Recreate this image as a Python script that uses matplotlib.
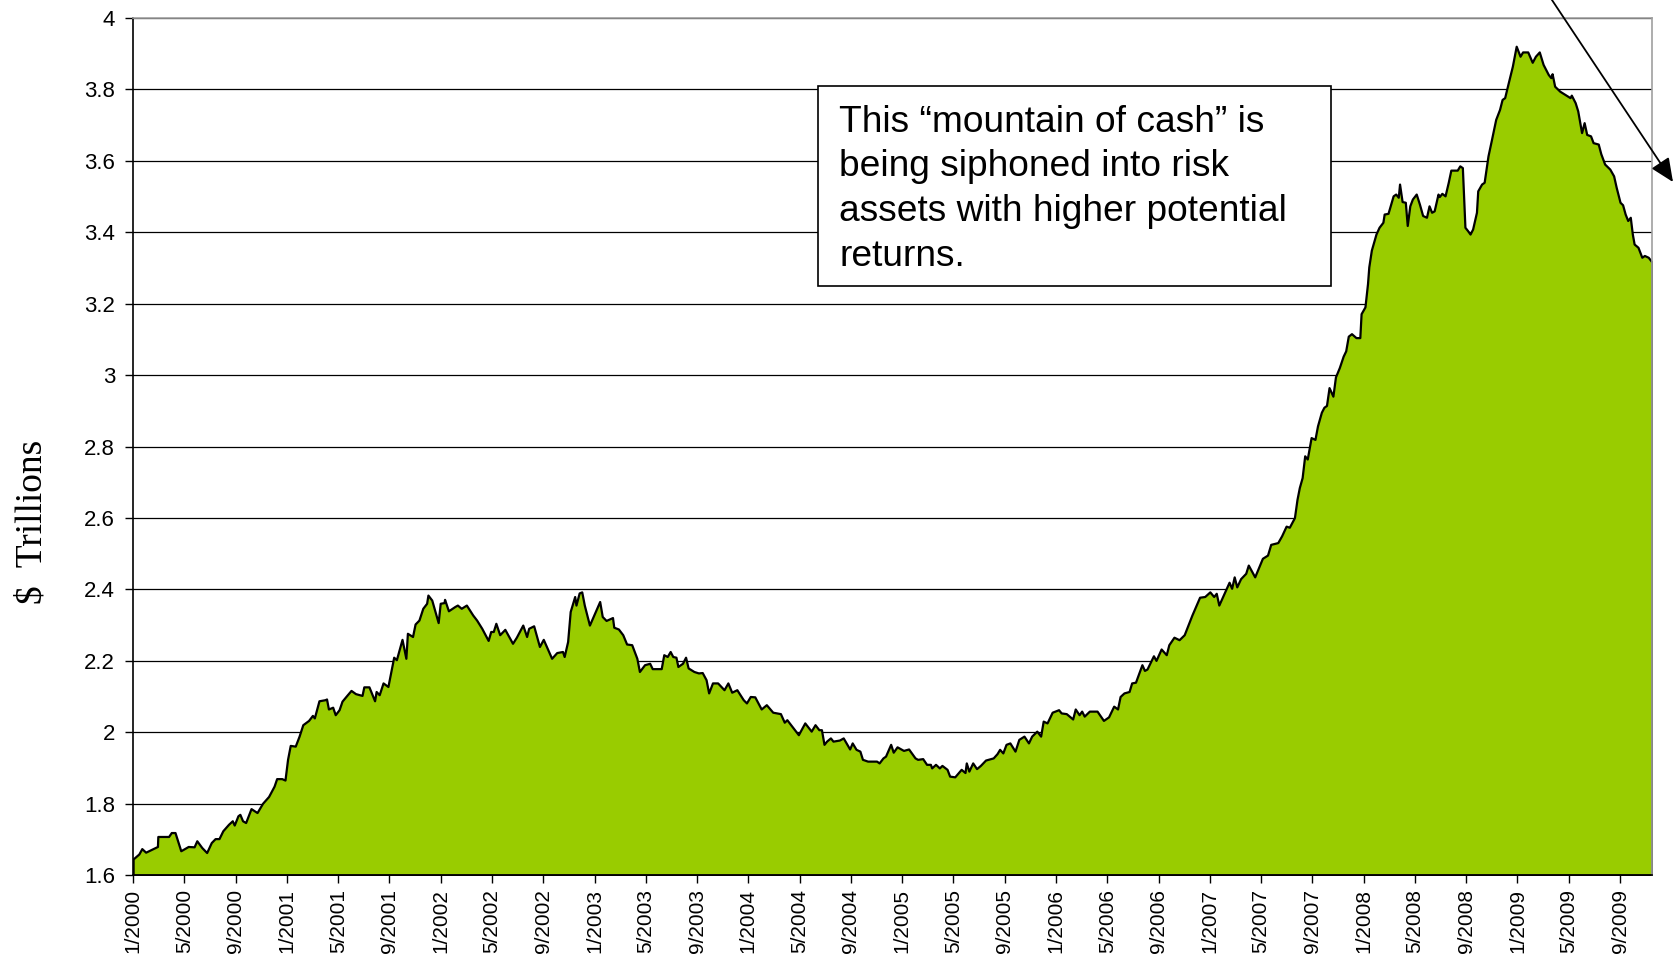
import matplotlib
matplotlib.use("Agg")
import matplotlib.pyplot as plt
from matplotlib.patches import Rectangle

# months since 1/2000 and money-market cash level ($ trillions)
months = [
    0.0, 0.45, 0.68, 0.98, 1.9, 1.93, 2.77, 2.98, 3.27, 3.72, 4.3, 4.76, 4.97, 5.36, 5.74,
    6.1, 6.4, 6.7, 7.0, 7.44, 7.74, 7.89, 8.18, 8.33, 8.54, 8.78, 9.2, 9.67, 10.1, 10.57,
    11.0, 11.2, 11.6, 11.85, 12.05, 12.26, 12.65, 12.95, 13.24, 13.69, 13.99, 14.14, 14.5,
    14.97, 15.09, 15.24, 15.57, 15.77, 16.07, 16.3, 16.67, 17.0, 17.35, 17.86, 18.0, 18.4,
    18.84, 18.96, 19.2, 19.5, 19.88, 20.33, 20.54, 20.98, 21.28, 21.4, 21.8, 22.0, 22.3,
    22.6, 22.9, 23.0, 23.3, 23.8, 23.96, 24.26, 24.3, 24.6, 25.1, 25.3, 25.6, 26.0, 26.5,
    26.8, 27.2, 27.7, 27.9, 28.1, 28.3, 28.6, 29.0, 29.6, 29.9, 30.4, 30.7, 30.86, 31.25,
    31.7, 32.0, 32.65, 33.05, 33.5, 33.63, 33.9, 34.1, 34.45, 34.55, 34.8, 35.0, 35.2,
    35.6, 36.0, 36.4, 36.6, 36.9, 37.4, 37.5, 37.86, 38.2, 38.5, 38.9, 39.3, 39.5, 39.9,
    40.3, 40.5, 41.2, 41.4, 41.67, 41.9, 42.1, 42.35, 42.5, 42.86, 43.1, 43.3, 43.75,
    44.1, 44.4, 44.7, 44.9, 45.2, 45.6, 46.1, 46.4, 46.7, 47.1, 47.6, 47.85, 48.15, 48.5,
    49.0, 49.4, 49.9, 50.5, 50.8, 51.0, 51.9, 52.4, 52.9, 53.2, 53.5, 53.7, 53.9, 54.1,
    54.4, 54.6, 55.1, 55.4, 55.9, 56.1, 56.4, 56.7, 56.9, 57.3, 58.0, 58.2, 58.5, 58.7,
    59.1, 59.3, 59.6, 60.1, 60.5, 61.0, 61.2, 61.6, 61.9, 62.2, 62.3, 62.6, 62.9, 63.1,
    63.5, 63.7, 64.1, 64.6, 64.9, 65.0, 65.2, 65.5, 65.8, 66.1, 66.5, 67.1, 67.4, 67.6,
    67.85, 68.1, 68.4, 68.8, 69.1, 69.5, 69.85, 70.1, 70.5, 70.8, 71.0, 71.3, 71.7, 72.2,
    72.4, 72.8, 73.3, 73.5, 73.8, 74.0, 74.2, 74.6, 75.2, 75.7, 76.1, 76.5, 76.8, 77.0,
    77.3, 77.7, 77.9, 78.2, 78.7, 78.9, 79.1, 79.6, 79.8, 80.2, 80.6, 80.8, 81.2, 81.6,
    82.0, 82.6, 83.2, 83.6, 84.0, 84.3, 84.5, 84.7, 85.25, 85.5, 85.7, 85.9, 86.1, 86.4,
    86.8, 87.0, 87.5, 88.1, 88.5, 88.75, 89.3, 89.6, 89.95, 90.2, 90.6, 90.8, 90.98,
    91.2, 91.4, 91.6, 91.9, 92.2, 92.4, 92.7, 92.9, 93.1, 93.3, 93.6, 93.8, 94.1, 94.4,
    94.6, 94.8, 95.05, 95.4, 95.7, 95.8, 96.1, 96.3, 96.4, 96.6, 96.96, 97.2, 97.5, 97.6,
    97.9, 98.3, 98.5, 98.7, 98.8, 99.0, 99.25, 99.4, 99.6, 99.8, 100.1, 100.35, 100.6,
    100.9, 101.1, 101.3, 101.5, 101.8, 101.9, 102.1, 102.35, 102.6, 102.8, 103.3, 103.5,
    103.7, 103.9, 104.1, 104.3, 104.5, 104.8, 104.9, 105.2, 105.4, 105.7, 105.95, 106.3,
    106.6, 106.8, 107.0, 107.25, 107.6, 107.9, 108.2, 108.4, 108.8, 109.15, 109.4, 109.7,
    110.0, 110.4, 110.6, 110.7, 110.9, 111.3, 111.7, 112.1, 112.2, 112.5, 112.7, 113.0,
    113.2, 113.4, 113.7, 113.9, 114.3, 114.5, 114.8, 115.2, 115.5, 115.7, 116.0, 116.2,
    116.4, 116.6, 116.8, 116.96, 117.1, 117.4, 117.7, 117.9, 118.2, 118.5,
]
cash = [
    1.645, 1.659, 1.674, 1.664, 1.68, 1.708, 1.708, 1.719, 1.719, 1.668, 1.68, 1.679, 1.696,
    1.677, 1.663, 1.691, 1.702, 1.702, 1.724, 1.742, 1.752, 1.74, 1.766, 1.77, 1.752, 1.747,
    1.786, 1.775, 1.801, 1.82, 1.849, 1.87, 1.87, 1.866, 1.924, 1.963, 1.961, 1.989, 2.021,
    2.033, 2.047, 2.04, 2.088, 2.091, 2.093, 2.065, 2.07, 2.049, 2.063, 2.087, 2.103, 2.117,
    2.108, 2.103, 2.127, 2.127, 2.088, 2.114, 2.105, 2.138, 2.128, 2.21, 2.203, 2.26, 2.207,
    2.277, 2.268, 2.303, 2.314, 2.347, 2.361, 2.384, 2.37, 2.307, 2.361, 2.363, 2.372, 2.34,
    2.352, 2.356, 2.347, 2.356, 2.328, 2.314, 2.291, 2.257, 2.282, 2.282, 2.305, 2.273,
    2.288, 2.249, 2.266, 2.3, 2.268, 2.291, 2.298, 2.24, 2.26, 2.207, 2.223, 2.226, 2.212,
    2.254, 2.338, 2.38, 2.356, 2.39, 2.393, 2.356, 2.3, 2.333, 2.366, 2.324, 2.313, 2.321,
    2.294, 2.289, 2.273, 2.247, 2.245, 2.207, 2.17, 2.189, 2.193, 2.178, 2.178, 2.217,
    2.212, 2.226, 2.212, 2.21, 2.184, 2.193, 2.21, 2.18, 2.17, 2.166, 2.167, 2.147, 2.11,
    2.138, 2.138, 2.119, 2.138, 2.112, 2.119, 2.091, 2.082, 2.1, 2.099, 2.065, 2.077, 2.056,
    2.052, 2.028, 2.035, 1.993, 2.026, 2.003, 2.021, 2.007, 2.007, 1.966, 1.975, 1.984,
    1.975, 1.978, 1.984, 1.953, 1.97, 1.952, 1.947, 1.924, 1.919, 1.919, 1.914, 1.928,
    1.933, 1.966, 1.944, 1.959, 1.949, 1.953, 1.928, 1.924, 1.926, 1.91, 1.91, 1.9, 1.91,
    1.9, 1.907, 1.896, 1.877, 1.875, 1.896, 1.887, 1.914, 1.891, 1.914, 1.898, 1.907,
    1.922, 1.928, 1.94, 1.952, 1.942, 1.966, 1.97, 1.947, 1.98, 1.989, 1.97, 1.989, 2.003,
    1.989, 2.031, 2.026, 2.056, 2.063, 2.054, 2.052, 2.037, 2.065, 2.049, 2.059, 2.045,
    2.059, 2.059, 2.033, 2.043, 2.073, 2.065, 2.1, 2.11, 2.114, 2.138, 2.14, 2.189, 2.173,
    2.177, 2.214, 2.201, 2.233, 2.217, 2.245, 2.266, 2.259, 2.273, 2.328, 2.378, 2.38,
    2.393, 2.38, 2.389, 2.356, 2.4, 2.42, 2.403, 2.435, 2.407, 2.43, 2.445, 2.468, 2.435,
    2.487, 2.496, 2.526, 2.531, 2.55, 2.577, 2.574, 2.601, 2.652, 2.685, 2.713, 2.774,
    2.765, 2.825, 2.82, 2.858, 2.896, 2.91, 2.915, 2.965, 2.941, 2.995, 3.021, 3.053, 3.068,
    3.109, 3.116, 3.105, 3.105, 3.172, 3.191, 3.256, 3.303, 3.35, 3.395, 3.414, 3.428,
    3.451, 3.453, 3.502, 3.507, 3.498, 3.535, 3.486, 3.484, 3.419, 3.474, 3.493, 3.507,
    3.479, 3.447, 3.442, 3.474, 3.456, 3.46, 3.507, 3.5, 3.509, 3.502, 3.54, 3.574, 3.574,
    3.586, 3.581, 3.414, 3.405, 3.395, 3.409, 3.456, 3.516, 3.535, 3.54, 3.614, 3.656,
    3.716, 3.744, 3.772, 3.777, 3.814, 3.865, 3.921, 3.893, 3.905, 3.905, 3.876, 3.893,
    3.905, 3.87, 3.842, 3.833, 3.844, 3.809, 3.795, 3.786, 3.777, 3.784, 3.763, 3.74,
    3.679, 3.707, 3.674, 3.67, 3.651, 3.647, 3.62, 3.591, 3.577, 3.558, 3.526, 3.484,
    3.477, 3.451, 3.433, 3.442, 3.395, 3.367, 3.358, 3.33, 3.335, 3.33, 3.316,
]

tick_months = list(range(0, 117, 4))
tick_labels = ["%d/%d" % (m % 12 + 1, 2000 + m // 12) for m in tick_months]
y_ticks = [1.6, 1.8, 2.0, 2.2, 2.4, 2.6, 2.8, 3.0, 3.2, 3.4, 3.6, 3.8, 4.0]

note = "This \u201cmountain of cash\u201d is\nbeing siphoned into risk\nassets with higher potential\nreturns."

plt.rcParams["font.family"] = ["Liberation Sans", "DejaVu Sans"]

fig = plt.figure(figsize=(16.74, 9.58), dpi=100)
ax = fig.add_axes([0.0795, 0.0866, 0.9074, 0.8946])

ax.fill_between(months, cash, 1.6, facecolor="#99CC00", edgecolor="black",
                linewidth=1.6, zorder=2)

ax.set_xlim(months[0], months[-1])
ax.set_ylim(1.6, 4.0)
ax.set_yticks(y_ticks)
ax.set_yticklabels(["%g" % v for v in y_ticks])
ax.set_xticks(tick_months)
ax.set_xticklabels(tick_labels, rotation=90)
ax.yaxis.grid(True, color="black", linewidth=0.9)
ax.set_axisbelow(True)

ax.tick_params(axis="both", direction="out", length=6, width=1, color="black")
ax.tick_params(axis="x", pad=4, labelsize=15)
ax.tick_params(axis="y", pad=7, labelsize=16)
for side in ["top", "right"]:
    ax.spines[side].set_color("#a0a0a0")
    ax.spines[side].set_linewidth(1.2)
for side in ["left", "bottom"]:
    ax.spines[side].set_color("black")
    ax.spines[side].set_linewidth(1.2)

fig.text(0.0195, 0.455, r"\$  Trillions", rotation=90, ha="center", va="center",
         fontsize=27, family="Liberation Serif")

# note box
ax.add_patch(Rectangle((0.451, 0.6873), 0.3377, 0.2333, transform=ax.transAxes,
                       facecolor="white", edgecolor="black", linewidth=1.2, zorder=5))
ax.text(0.465, 0.899, note, transform=ax.transAxes, ha="left", va="top",
        fontsize=26.7, linespacing=1.36, zorder=6)

# arrow running off the top-right corner
ax.annotate("", xy=(0.9994, 0.81), xycoords="figure fraction",
            xytext=(0.9128, 1.0376), textcoords="figure fraction",
            arrowprops=dict(arrowstyle="-|>,head_length=0.45,head_width=0.2",
                            color="black", lw=1.3, mutation_scale=32,
                            shrinkA=0, shrinkB=0),
            annotation_clip=False)

fig.savefig("out.png", dpi=100)
